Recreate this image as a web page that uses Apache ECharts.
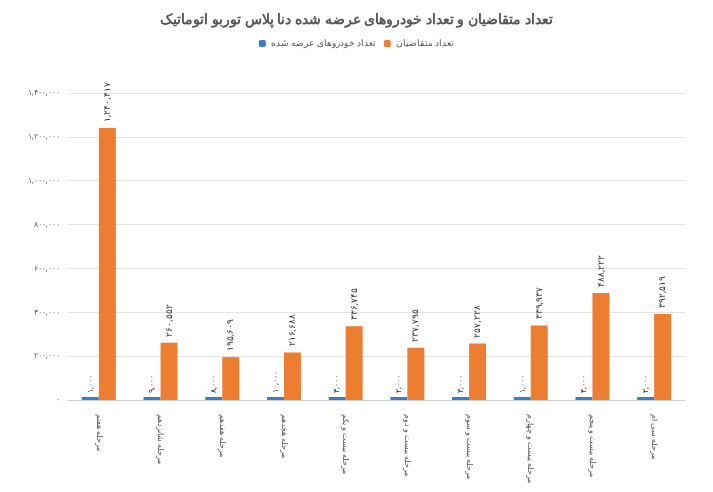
<!DOCTYPE html>
<html><head><meta charset="utf-8">
<script src="https://cdn.jsdelivr.net/npm/echarts@6/dist/echarts.min.js"></script>
<style>html,body{margin:0;background:#fff}#c{width:713px;height:492px}</style>
</head><body><div id="c"></div>
<script>
const categories=['مرحله هفتم','مرحله شانزدهم','مرحله هفدهم','مرحله هجدهم','مرحله بیست و یکم','مرحله بیست و دوم','مرحله بیست و سوم','مرحله بیست و چهارم','مرحله بیست و پنجم','مرحله سی ام'];
const supplied=[1000,9000,8000,10000,3000,2000,3000,1000,4000,2000];
const applicants=[1240417,260552,195609,216688,336745,237795,257228,339937,488222,392519];
const yTicks={min:0,max:1400000,interval:200000};
const fa=n=>n.toLocaleString('en-US').replace(/\d/g,d=>'۰۱۲۳۴۵۶۷۸۹'[d]);
const f='Noto Sans';
echarts.init(document.getElementById('c')).setOption({
 title:{text:'تعداد متقاضیان و تعداد خودروهای عرضه شده دنا پلاس توربو اتوماتیک',left:'center',top:8,textStyle:{fontFamily:f,fontSize:14,fontWeight:'bold',color:'#555'}},
 legend:{top:34,left:'center',itemWidth:7,itemHeight:7,textStyle:{fontFamily:f,fontSize:9,color:'#555'},data:['تعداد خودروهای عرضه شده','تعداد متقاضیان']},
 grid:{left:68,right:28,top:93,bottom:92},
 xAxis:{type:'category',data:categories,axisTick:{show:false},axisLine:{lineStyle:{color:'#ccc'}},axisLabel:{rotate:-90,margin:14,fontFamily:f,fontSize:8,color:'#555',interval:0}},
 yAxis:{type:'value',...yTicks,axisLabel:{formatter:v=>fa(v),fontFamily:f,fontSize:8,color:'#666'},splitLine:{lineStyle:{color:'#e4e4e4'}}},
 series:[
  {name:'تعداد خودروهای عرضه شده',type:'bar',data:supplied,barWidth:17,barGap:'0%',barMinHeight:3,itemStyle:{color:'#3E7CC2'},label:{show:true,position:'top',rotate:90,align:'left',verticalAlign:'middle',distance:4,formatter:p=>fa(p.value),fontFamily:f,fontSize:8,color:'#333'}},
  {name:'تعداد متقاضیان',type:'bar',data:applicants,barWidth:17,itemStyle:{color:'#ED7D31'},label:{show:true,position:'top',rotate:90,align:'left',verticalAlign:'middle',distance:6,formatter:p=>fa(p.value),fontFamily:f,fontSize:9,color:'#333'}}
 ]
});
</script></body></html>
